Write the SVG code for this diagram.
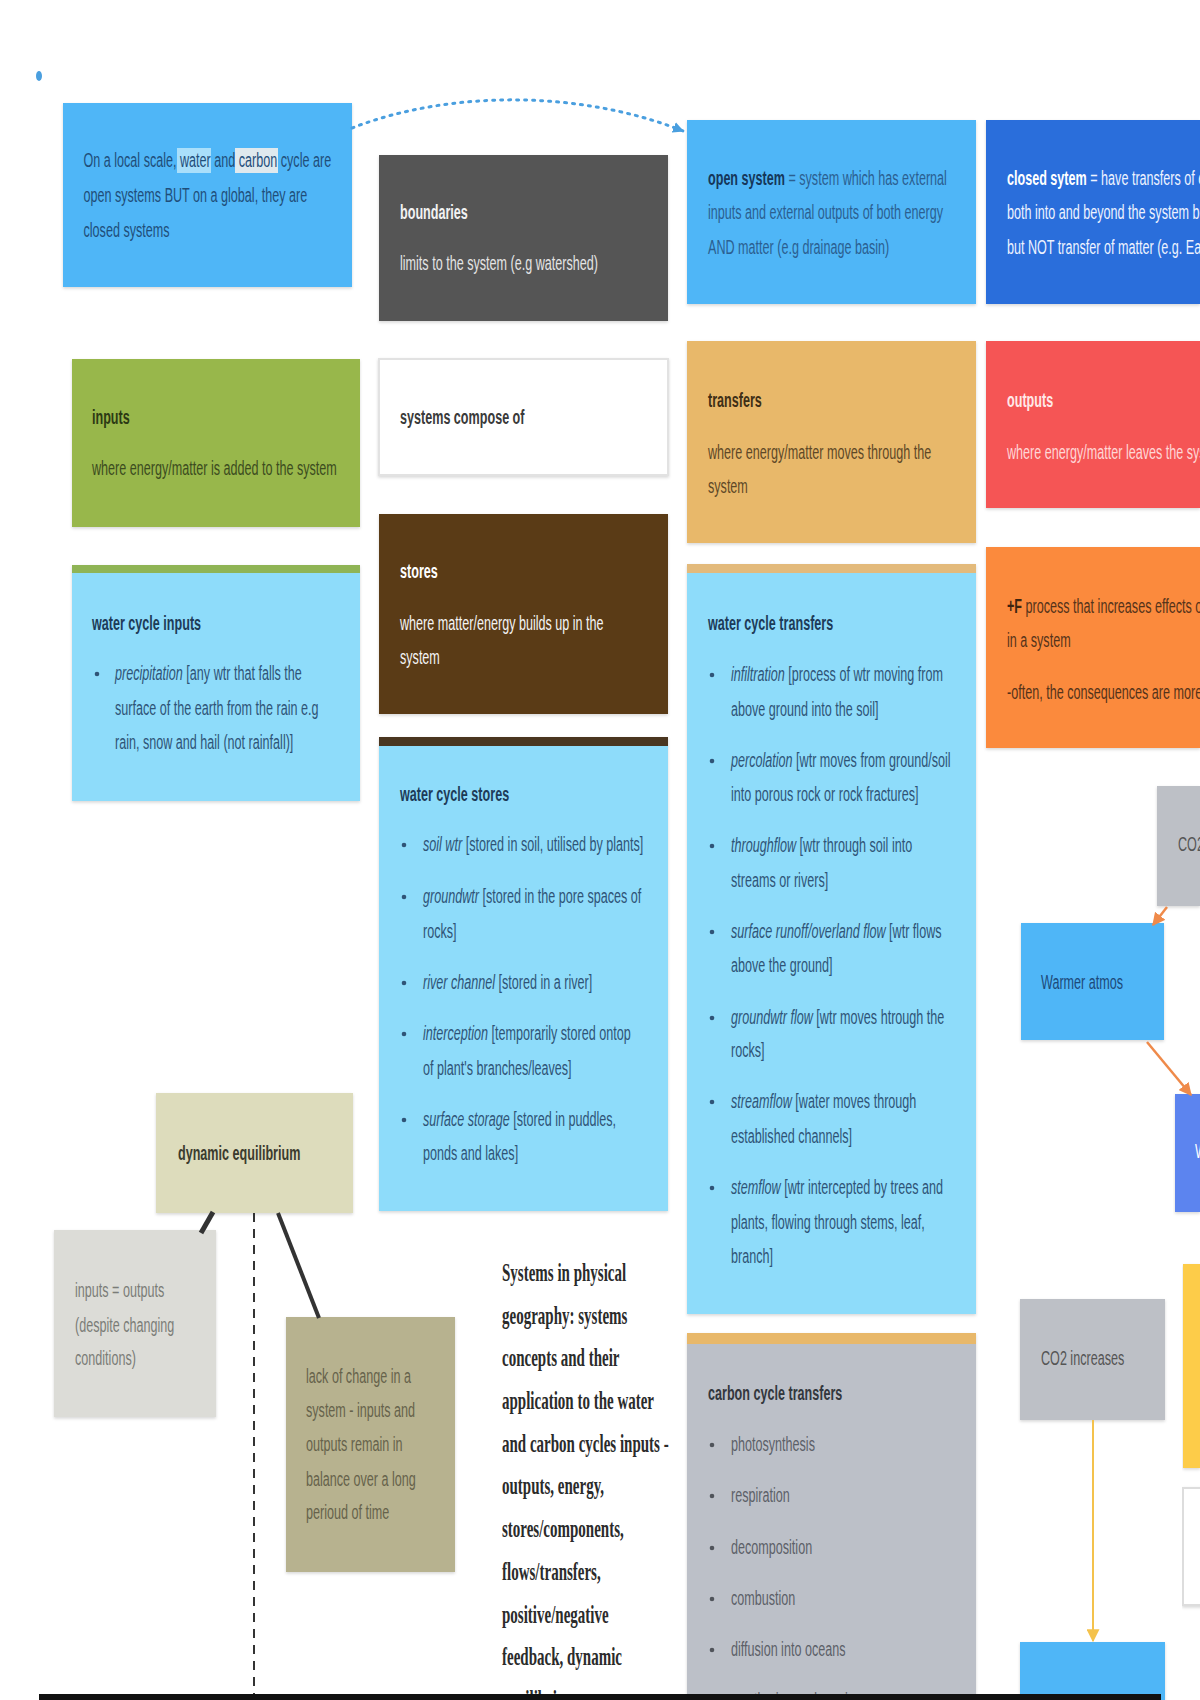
<svg xmlns="http://www.w3.org/2000/svg" width="1200" height="1700" viewBox="0 0 1200 1700">
<defs>
<style>
.s{font-family:"Liberation Sans",Arial,sans-serif;font-size:21px}
.b{font-weight:bold}
.i{font-style:italic}
.serif{font-family:"Liberation Serif","Times New Roman",serif;font-size:25px;font-weight:bold;fill:#2b2b2b}
.box{filter:url(#sh)}
.conn{fill:none}
</style>
<filter id="sh" x="-5%" y="-5%" width="110%" height="115%">
<feDropShadow dx="0" dy="1.5" stdDeviation="1.5" flood-color="#000" flood-opacity="0.16"/>
</filter>
<marker id="ab" viewBox="0 0 10 10" refX="9" refY="5" markerWidth="11" markerHeight="11" markerUnits="userSpaceOnUse" orient="auto"><path d="M0,0 L10,5 L0,10 z" fill="#4a9fdf"/></marker>
<marker id="ao" viewBox="0 0 10 10" refX="9" refY="5" markerWidth="13" markerHeight="13" markerUnits="userSpaceOnUse" orient="auto"><path d="M0,0 L10,5 L0,10 z" fill="#ef8a4a"/></marker>
<marker id="ay" viewBox="0 0 10 10" refX="9" refY="5" markerWidth="13" markerHeight="13" markerUnits="userSpaceOnUse" orient="auto"><path d="M0,0 L10,5 L0,10 z" fill="#f4c24c"/></marker>
</defs>
<rect width="1200" height="1700" fill="#ffffff"/>
<ellipse cx="39" cy="76" rx="3" ry="5" fill="#4a9fdf"/>

<g id="n-local">
<rect class="box" x="63" y="103" width="289" height="184" fill="#4fb6f7"/>
<rect x="177" y="148" width="34" height="25" fill="#a9dffb"/>
<rect x="235" y="148" width="43" height="25" fill="#dfe9ee"/>
<g transform="translate(83.5 0) scale(0.6 1)" class="s" fill="#1f4e7a">
<text y="167">On a local scale, water and carbon cycle are</text>
<text y="202">open systems BUT on a global, they are</text>
<text y="237">closed systems</text>
</g>
</g>

<g id="n-boundaries">
<rect class="box" x="379" y="155" width="289" height="166" fill="#555555"/>
<g transform="translate(400 0) scale(0.6 1)" class="s">
<text y="219" class="b" fill="#f2f2f2">boundaries</text>
<text y="270" fill="#e4e4e4">limits to the system (e.g watershed)</text>
</g>
</g>

<g id="n-open">
<rect class="box" x="687" y="120" width="289" height="184" fill="#4fb6f7"/>
<g transform="translate(708 0) scale(0.6 1)" class="s" fill="#2b5f91">
<text y="185"><tspan class="b" fill="#15375a">open system</tspan> = system which has external</text>
<text y="219">inputs and external outputs of both energy</text>
<text y="254">AND matter (e.g drainage basin)</text>
</g>
</g>

<g id="n-closed">
<rect class="box" x="986" y="120" width="214" height="184" fill="#2a6edb"/>
<g transform="translate(1007 0) scale(0.6 1)" class="s" fill="#eef3ff">
<text y="185"><tspan class="b" fill="#ffffff">closed sytem</tspan> = have transfers of energy</text>
<text y="219">both into and beyond the system boundary</text>
<text y="254">but NOT transfer of matter (e.g. Earth)</text>
</g>
</g>

<g id="n-inputs">
<rect class="box" x="72" y="359" width="288" height="168" fill="#98b74b"/>
<g transform="translate(92 0) scale(0.6 1)" class="s">
<text y="424" class="b" fill="#2c3a14">inputs</text>
<text y="475" fill="#3c4c1f">where energy/matter is added to the system</text>
</g>
</g>

<g id="n-compose">
<rect class="box" x="379" y="359" width="289" height="116" fill="#ffffff" stroke="#e2e2e2" stroke-width="2"/>
<g transform="translate(400 0) scale(0.6 1)" class="s">
<text y="424" class="b" fill="#3a3a3a">systems compose of</text>
</g>
</g>

<g id="n-transfers">
<rect class="box" x="687" y="341" width="289" height="202" fill="#e8b86a"/>
<g transform="translate(708 0) scale(0.6 1)" class="s" fill="#5e4827">
<text y="407" class="b" fill="#3e2f16">transfers</text>
<text y="459">where energy/matter moves through the</text>
<text y="493">system</text>
</g>
</g>

<g id="n-outputs">
<rect class="box" x="986" y="341" width="214" height="167" fill="#f55454"/>
<g transform="translate(1007 0) scale(0.6 1)" class="s">
<text y="407" class="b" fill="#ffe8e8">outputs</text>
<text y="459" fill="#ffd6d6">where energy/matter leaves the system</text>
</g>
</g>

<g id="n-wc-inputs">
<rect class="box" x="72" y="565" width="288" height="236" fill="#8edcfa"/>
<rect x="72" y="565" width="288" height="8" fill="#8fb455"/>
<circle cx="97" cy="674" r="2.3" fill="#2f5477"/>
<g transform="translate(92 0) scale(0.6 1)" class="s" fill="#2f5477">
<text y="630" class="b" fill="#1d3b58">water cycle inputs</text>
<text x="38.3" y="680"><tspan class="i">precipitation</tspan> [any wtr that falls the</text>
<text x="38.3" y="715">surface of the earth from the rain e.g</text>
<text x="38.3" y="749">rain, snow and hail (not rainfall)]</text>
</g>
</g>

<g id="n-stores">
<rect class="box" x="379" y="514" width="289" height="200" fill="#5a3b17"/>
<g transform="translate(400 0) scale(0.6 1)" class="s" fill="#f4f4f4">
<text y="578" class="b" fill="#ffffff">stores</text>
<text y="630">where matter/energy builds up in the</text>
<text y="664">system</text>
</g>
</g>

<g id="n-wc-stores">
<rect class="box" x="379" y="737" width="289" height="474" fill="#8edcfa"/>
<rect x="379" y="737" width="289" height="9" fill="#4a3620"/>
<g fill="#2f5477">
<circle cx="404" cy="845" r="2.3"/>
<circle cx="404" cy="897" r="2.3"/>
<circle cx="404" cy="983" r="2.3"/>
<circle cx="404" cy="1034" r="2.3"/>
<circle cx="404" cy="1120" r="2.3"/>
</g>
<g transform="translate(400 0) scale(0.6 1)" class="s" fill="#2f5477">
<text y="801" class="b" fill="#1d3b58">water cycle stores</text>
<text x="38.3" y="851"><tspan class="i">soil wtr</tspan> [stored in soil, utilised by plants]</text>
<text x="38.3" y="903"><tspan class="i">groundwtr</tspan> [stored in the pore spaces of</text>
<text x="38.3" y="938">rocks]</text>
<text x="38.3" y="989"><tspan class="i">river channel</tspan> [stored in a river]</text>
<text x="38.3" y="1040"><tspan class="i">interception</tspan> [temporarily stored ontop</text>
<text x="38.3" y="1075">of plant's branches/leaves]</text>
<text x="38.3" y="1126"><tspan class="i">surface storage</tspan> [stored in puddles,</text>
<text x="38.3" y="1160">ponds and lakes]</text>
</g>
</g>

<g id="n-wc-transfers">
<rect class="box" x="687" y="564" width="289" height="750" fill="#8edcfa"/>
<rect x="687" y="564" width="289" height="9" fill="#e3ba7b"/>
<g fill="#2f5477">
<circle cx="712" cy="675" r="2.3"/>
<circle cx="712" cy="761" r="2.3"/>
<circle cx="712" cy="846" r="2.3"/>
<circle cx="712" cy="932" r="2.3"/>
<circle cx="712" cy="1018" r="2.3"/>
<circle cx="712" cy="1102" r="2.3"/>
<circle cx="712" cy="1188" r="2.3"/>
</g>
<g transform="translate(708 0) scale(0.6 1)" class="s" fill="#2f5477">
<text y="630" class="b" fill="#1d3b58">water cycle transfers</text>
<text x="38.3" y="681"><tspan class="i">infiltration</tspan> [process of wtr moving from</text>
<text x="38.3" y="716">above ground into the soil]</text>
<text x="38.3" y="767"><tspan class="i">percolation</tspan> [wtr moves from ground/soil</text>
<text x="38.3" y="801">into porous rock or rock fractures]</text>
<text x="38.3" y="852"><tspan class="i">throughflow</tspan> [wtr through soil into</text>
<text x="38.3" y="887">streams or rivers]</text>
<text x="38.3" y="938"><tspan class="i">surface runoff/overland flow</tspan> [wtr flows</text>
<text x="38.3" y="972">above the ground]</text>
<text x="38.3" y="1024"><tspan class="i">groundwtr flow</tspan> [wtr moves htrough the</text>
<text x="38.3" y="1057">rocks]</text>
<text x="38.3" y="1108"><tspan class="i">streamflow</tspan> [water moves through</text>
<text x="38.3" y="1143">established channels]</text>
<text x="38.3" y="1194"><tspan class="i">stemflow</tspan> [wtr intercepted by trees and</text>
<text x="38.3" y="1229">plants, flowing through stems, leaf,</text>
<text x="38.3" y="1263">branch]</text>
</g>
</g>

<g id="n-feedback">
<rect class="box" x="986" y="547" width="214" height="201" fill="#fb8a3d"/>
<g transform="translate(1007 0) scale(0.6 1)" class="s" fill="#55331a">
<text y="613"><tspan class="b" fill="#3d2410">+F</tspan> process that increases effects of</text>
<text y="647">in a system</text>
<text y="699">-often, the consequences are more</text>
</g>
</g>

<g id="n-co2">
<rect class="box" x="1157" y="786" width="43" height="120" fill="#bdc0c6"/>
<g transform="translate(1178 0) scale(0.6 1)" class="s"><text y="851" fill="#555555">CO2</text></g>
</g>

<g id="n-warmer">
<rect class="box" x="1021" y="923" width="143" height="117" fill="#4fb6f7"/>
<g transform="translate(1041 0) scale(0.6 1)" class="s"><text y="989" fill="#1d4a7a">Warmer atmos</text></g>
</g>

<g id="n-w">
<rect class="box" x="1175" y="1094" width="25" height="118" fill="#5b84ef"/>
<g transform="translate(1195 0) scale(0.6 1)" class="s"><text y="1158" fill="#ffffff">W</text></g>
</g>

<g id="n-yellow">
<rect class="box" x="1183" y="1264" width="17" height="204" fill="#fdcc48"/>
</g>

<g id="n-white">
<rect class="box" x="1183" y="1488" width="20" height="117" fill="#ffffff" stroke="#dddddd" stroke-width="2"/>
</g>

<g id="n-co2inc">
<rect class="box" x="1020" y="1299" width="145" height="121" fill="#bdc0c6"/>
<g transform="translate(1041 0) scale(0.6 1)" class="s"><text y="1365" fill="#555555">CO2 increases</text></g>
</g>

<g id="n-warmer2">
<rect class="box" x="1020" y="1642" width="145" height="70" fill="#4fb6f7"/>
<g transform="translate(1042 0) scale(0.6 1)" class="s"><text y="1708" fill="#1d4a7a">warmer atmos</text></g>
</g>

<g id="n-carbon">
<rect class="box" x="687" y="1333" width="289" height="380" fill="#bcc0c8"/>
<rect x="687" y="1333" width="289" height="11" fill="#e8b86a"/>
<g fill="#50545b">
<circle cx="712" cy="1445" r="2.3"/>
<circle cx="712" cy="1496" r="2.3"/>
<circle cx="712" cy="1548" r="2.3"/>
<circle cx="712" cy="1599" r="2.3"/>
<circle cx="712" cy="1650" r="2.3"/>
</g>
<g transform="translate(708 0) scale(0.6 1)" class="s" fill="#5c6068">
<text y="1400" class="b" fill="#33373d">carbon cycle transfers</text>
<text x="38.3" y="1451">photosynthesis</text>
<text x="38.3" y="1502">respiration</text>
<text x="38.3" y="1554">decomposition</text>
<text x="38.3" y="1605">combustion</text>
<text x="38.3" y="1656">diffusion into oceans</text>
<text x="38.3" y="1707">weathering and erosion</text>
</g>
</g>

<g id="n-dyn">
<rect class="box" x="156" y="1093" width="197" height="120" fill="#dddcbc"/>
<g transform="translate(178 0) scale(0.6 1)" class="s"><text y="1160" class="b" fill="#3b3b2e">dynamic equilibrium</text></g>
</g>

<g id="n-io">
<rect class="box" x="54" y="1230" width="162" height="187" fill="#dcdcd7"/>
<g transform="translate(75 0) scale(0.6 1)" class="s" fill="#7b7c77">
<text y="1297">inputs = outputs</text>
<text y="1332">(despite changing</text>
<text y="1365">conditions)</text>
</g>
</g>

<g id="n-lack">
<rect class="box" x="286" y="1317" width="169" height="255" fill="#b7b28f"/>
<g transform="translate(306 0) scale(0.6 1)" class="s" fill="#66624b">
<text y="1383">lack of change in a</text>
<text y="1417">system - inputs and</text>
<text y="1451">outputs remain in</text>
<text y="1486">balance over a long</text>
<text y="1519">perioud of time</text>
</g>
</g>

<g id="n-title">
<g transform="translate(502 0) scale(0.6 1)" class="serif">
<text y="1281">Systems in physical</text>
<text y="1324">geography: systems</text>
<text y="1366">concepts and their</text>
<text y="1409">application to the water</text>
<text y="1452">and carbon cycles inputs -</text>
<text y="1494">outputs, energy,</text>
<text y="1537">stores/components,</text>
<text y="1580">flows/transfers,</text>
<text y="1623">positive/negative</text>
<text y="1665">feedback, dynamic</text>
<text y="1708">equilibrium</text>
</g>
</g>

<g id="connectors" class="conn">
<path d="M352,128 C450,90 580,90 683,131" stroke="#4a9fdf" stroke-width="3" stroke-dasharray="2 6" stroke-linecap="round" marker-end="url(#ab)"/>
<path d="M1167,907 L1153,925" stroke="#ef8a4a" stroke-width="2.5" marker-end="url(#ao)"/>
<path d="M1147,1042 L1191,1095" stroke="#ef8a4a" stroke-width="2.5" marker-end="url(#ao)"/>
<path d="M1093,1420 L1093,1641" stroke="#f4c24c" stroke-width="2" marker-end="url(#ay)"/>
<path d="M213,1212 L201,1233" stroke="#333333" stroke-width="5"/>
<path d="M278,1213 L319,1318" stroke="#333333" stroke-width="4"/>
<path d="M254,1213 L254,1700" stroke="#333333" stroke-width="2" stroke-dasharray="9 7"/>
</g>

<rect x="39" y="1694" width="1122" height="6" fill="#111111"/>
</svg>
